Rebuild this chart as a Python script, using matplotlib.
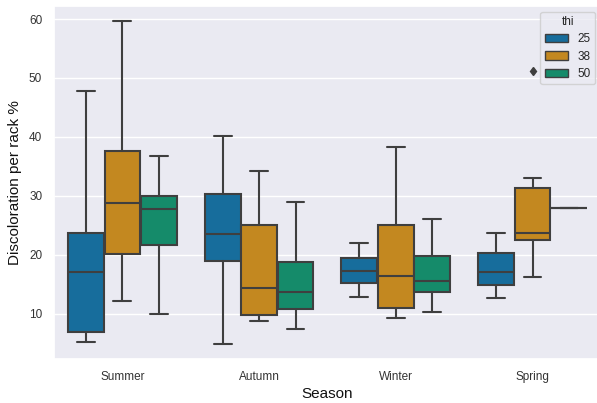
import matplotlib
matplotlib.use("Agg")
import matplotlib.pyplot as plt
import seaborn as sns
from matplotlib.patches import Patch

sns.set_theme(style="darkgrid")
plt.rcParams["font.family"] = ["Liberation Sans", "DejaVu Sans"]

seasons = ["Summer", "Autumn", "Winter", "Spring"]
thi_levels = ["25", "38", "50"]

# five-number summaries per season, one list per thi level
whislo = {
    "25": [5.2, 4.9, 12.8, 12.7],
    "38": [12.1, 8.8, 9.3, 16.2],
    "50": [9.9, 7.3, 10.2, 28.0],
}
q1 = {
    "25": [6.8, 19.0, 15.1, 14.9],
    "38": [20.1, 9.7, 10.9, 22.5],
    "50": [21.6, 10.8, 13.6, 28.0],
}
med = {
    "25": [17.0, 23.5, 17.3, 17.1],
    "38": [28.7, 14.3, 16.3, 23.6],
    "50": [27.7, 13.6, 15.6, 28.0],
}
q3 = {
    "25": [23.6, 30.3, 19.5, 20.3],
    "38": [37.6, 25.0, 25.0, 31.3],
    "50": [29.9, 18.8, 19.7, 28.0],
}
whishi = {
    "25": [47.7, 40.1, 21.9, 23.6],
    "38": [59.7, 34.2, 38.2, 33.0],
    "50": [36.8, 28.9, 26.0, 28.0],
}
outliers = {
    "25": [[], [], [], []],
    "38": [[], [], [], [51.2]],
    "50": [[], [], [], []],
}

palette = sns.color_palette("colorblind", 3)
colors = [sns.desaturate(c, 0.75) for c in palette]
edge = "#3f3f3f"

fig = plt.figure(figsize=(5.97, 4.03), dpi=100)
ax = fig.add_axes([0.0905, 0.108, 0.916, 0.877])

n = len(thi_levels)
group_w = 0.8
each_w = group_w / n
for i, lvl in enumerate(thi_levels):
    offset = -group_w / 2 + each_w * (i + 0.5)
    stats = []
    for j in range(len(seasons)):
        stats.append({
            "whislo": whislo[lvl][j], "q1": q1[lvl][j], "med": med[lvl][j],
            "q3": q3[lvl][j], "whishi": whishi[lvl][j], "fliers": outliers[lvl][j],
        })
    pos = [j + offset for j in range(len(seasons))]
    ax.bxp(
        stats, positions=pos, widths=each_w * 0.98, patch_artist=True,
        boxprops=dict(facecolor=colors[i], edgecolor=edge, linewidth=1.5),
        medianprops=dict(color=edge, linewidth=1.5),
        whiskerprops=dict(color=edge, linewidth=1.5),
        capprops=dict(color=edge, linewidth=1.5),
        flierprops=dict(marker="d", markerfacecolor=edge, markeredgecolor=edge,
                        markersize=4.5, linestyle="none"),
        manage_ticks=False,
    )

ax.set_xlim(-0.5, 3.5)
ax.set_ylim(2.2, 62.2)
ax.set_xticks(range(len(seasons)))
ax.set_xticklabels(seasons)
ax.set_yticks([10, 20, 30, 40, 50, 60])
ax.tick_params(axis="both", labelsize=8.5, colors="#333333", pad=2.5)
ax.set_xlabel("Season", fontsize=11, color="#111111", labelpad=3)
ax.set_ylabel("Discoloration per rack %", fontsize=11, color="#111111", labelpad=5)
ax.grid(axis="x", visible=False)

handles = [Patch(facecolor=colors[i], edgecolor=edge, linewidth=1.0, label=lvl)
           for i, lvl in enumerate(thi_levels)]
ax.legend(handles=handles, title="thi", loc="upper right", fontsize=8.5,
          title_fontsize=8.5, frameon=True, borderpad=0.35, labelspacing=0.45)

fig.savefig("out.png", dpi=100)
